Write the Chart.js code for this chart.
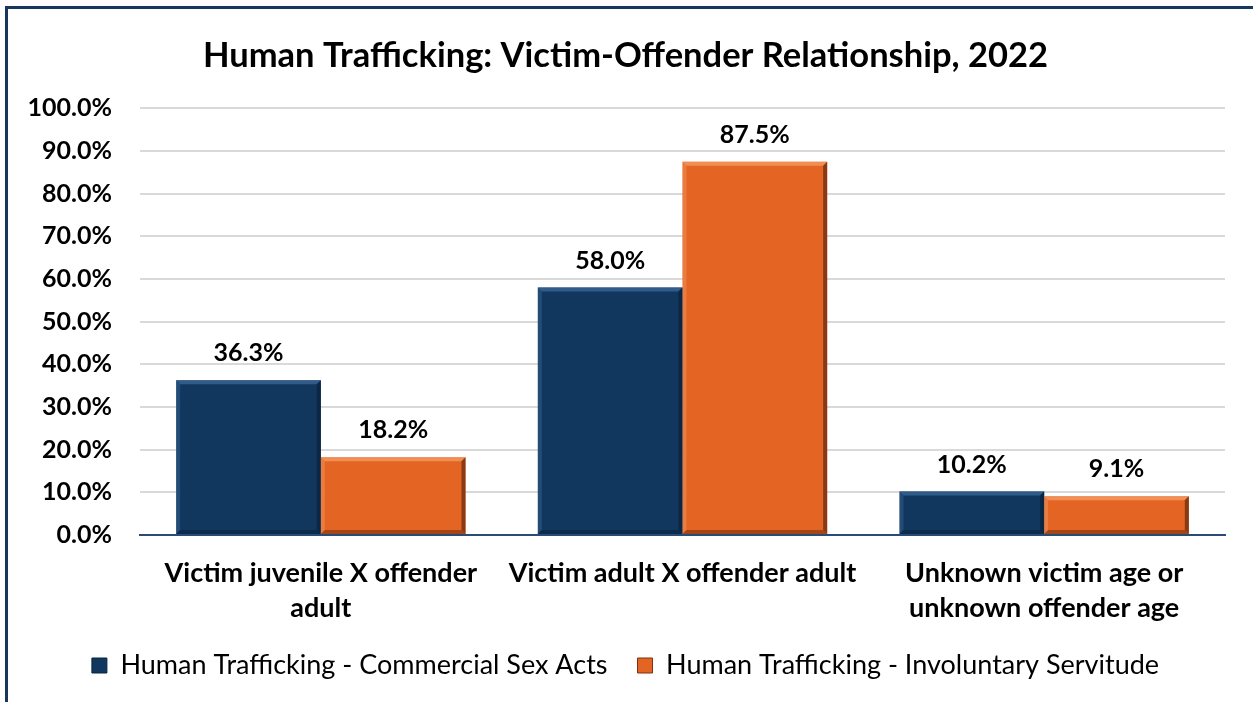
<!DOCTYPE html>
<html>

<head>
  <title>Human Trafficking: Victim-Offender Relationship, 2022</title>
  <script src="https://cdn.jsdelivr.net/npm/chart.js"></script>
</head>

<body>
  <div class="frame"></div>
  <canvas id="barChart" width="1253" height="702"></canvas>
</body>

<style>
  html,
  body {
    margin: 0;
    padding: 0;
    background: #fff;
    overflow: hidden;
  }

  canvas {
    position: absolute;
    left: 0;
    top: 0;
  }

  /* dark frame line along the top and left like the original export */
  .frame {
    position: absolute;
    left: 5px;
    top: 6px;
    width: 1260px;
    height: 710px;
    border-top: 3px solid #17375E;
    border-left: 3px solid #17375E;
    z-index: 2;
    pointer-events: none;
  }
</style>

<script>
  const categories = [
    ['Victim juvenile X offender', 'adult'],
    'Victim adult X offender adult',
    ['Unknown victim age or', 'unknown offender age']
  ];
  const commercialSex = [36.3, 58.0, 10.2];
  const involuntaryServitude = [18.2, 87.5, 9.1];
  const seriesNames = ['Human Trafficking - Commercial Sex Acts', 'Human Trafficking - Involuntary Servitude'];

  const FONT = 'Lato, "Open Sans", sans-serif';

  // bevel look on each bar: light top/left, dark right/bottom
  const bevelPlugin = {
    id: 'bevel',
    afterDatasetsDraw(chart) {
      const ctx = chart.ctx;
      const shades = [
        { light: '#3A6494', dark: '#0A2440' },
        { light: '#F29A62', dark: '#7A3210' }
      ];
      chart.data.datasets.forEach((ds, i) => {
        const meta = chart.getDatasetMeta(i);
        meta.data.forEach(bar => {
          const l = bar.x - bar.width / 2;
          const r = bar.x + bar.width / 2;
          const t = bar.y;
          const b = bar.base;
          const w = 4;
          ctx.save();
          // top
          ctx.fillStyle = shades[i].light;
          ctx.globalAlpha = 0.8;
          ctx.beginPath();
          ctx.moveTo(l, t); ctx.lineTo(r, t); ctx.lineTo(r - w, t + w); ctx.lineTo(l + w, t + w);
          ctx.fill();
          // left
          ctx.globalAlpha = 0.45;
          ctx.beginPath();
          ctx.moveTo(l, t); ctx.lineTo(l + w, t + w); ctx.lineTo(l + w, b - w); ctx.lineTo(l, b);
          ctx.fill();
          // right
          ctx.fillStyle = shades[i].dark;
          ctx.globalAlpha = 0.85;
          ctx.beginPath();
          ctx.moveTo(r, t); ctx.lineTo(r, b); ctx.lineTo(r - w, b - w); ctx.lineTo(r - w, t + w);
          ctx.fill();
          // bottom
          ctx.globalAlpha = 0.6;
          ctx.beginPath();
          ctx.moveTo(l, b); ctx.lineTo(r, b); ctx.lineTo(r - w, b - w); ctx.lineTo(l + w, b - w);
          ctx.fill();
          ctx.restore();
        });
      });
    }
  };

  // value labels above the bars
  const valueLabels = {
    id: 'valueLabels',
    afterDatasetsDraw(chart) {
      const ctx = chart.ctx;
      ctx.save();
      ctx.font = 'bold 25px ' + FONT;
      ctx.fillStyle = '#000';
      ctx.textAlign = 'center';
      ctx.textBaseline = 'middle';
      chart.data.datasets.forEach((ds, i) => {
        chart.getDatasetMeta(i).data.forEach((bar, j) => {
          ctx.fillText(ds.data[j].toFixed(1) + '%', bar.x, bar.y - 27);
        });
      });
      ctx.restore();
    }
  };

  const ctx = document.getElementById('barChart').getContext('2d');

  const barChart = new Chart(ctx, {
    type: 'bar',
    data: {
      labels: categories,
      datasets: [
        {
          label: seriesNames[0],
          data: commercialSex,
          backgroundColor: '#11375F',
          borderWidth: 0
        },
        {
          label: seriesNames[1],
          data: involuntaryServitude,
          backgroundColor: '#E46424',
          borderWidth: 0
        }
      ]
    },
    options: {
      responsive: false,
      animation: false,
      datasets: {
        bar: {
          categoryPercentage: 0.8,
          barPercentage: 1.0
        }
      },
      layout: {
        padding: { left: 26, right: 28, top: 0, bottom: 13 }
      },
      plugins: {
        title: {
          display: true,
          text: 'Human Trafficking: Victim-Offender Relationship, 2022',
          color: '#000',
          font: { family: FONT, size: 34.5, weight: 'bold', lineHeight: 1.2 },
          padding: { top: 35, bottom: 32 }
        },
        legend: {
          position: 'bottom',
          labels: {
            color: '#111',
            boxWidth: 15,
            boxHeight: 15,
            padding: 30,
            font: { family: FONT, size: 27 },
            generateLabels(chart) {
              return chart.data.datasets.map((ds, i) => ({
                text: ds.label,
                fillStyle: ds.backgroundColor,
                strokeStyle: i === 0 ? '#0A2440' : '#7A3210',
                lineWidth: 1,
                datasetIndex: i
              }));
            }
          }
        },
        tooltip: { enabled: false }
      },
      scales: {
        x: {
          grid: { display: false, drawTicks: false },
          border: { display: true, color: '#2A4A78', width: 2 },
          ticks: {
            color: '#000',
            padding: 21,
            maxRotation: 0,
            autoSkip: false,
            font: { family: FONT, size: 27, weight: 'bold', lineHeight: 1.3 }
          },
          afterFit(scale) {
            scale.height = 87;
          }
        },
        y: {
          min: 0,
          max: 100,
          grid: { color: '#D9D9D9', lineWidth: 2, drawTicks: false },
          border: { display: false },
          ticks: {
            stepSize: 10,
            color: '#000',
            padding: 28,
            font: { family: FONT, size: 25, weight: 'bold' },
            callback: v => v.toFixed(1) + '%'
          },
          afterFit(scale) {
            scale.width = 114;
          }
        }
      }
    },
    plugins: [bevelPlugin, valueLabels]
  });
</script>

</html>
